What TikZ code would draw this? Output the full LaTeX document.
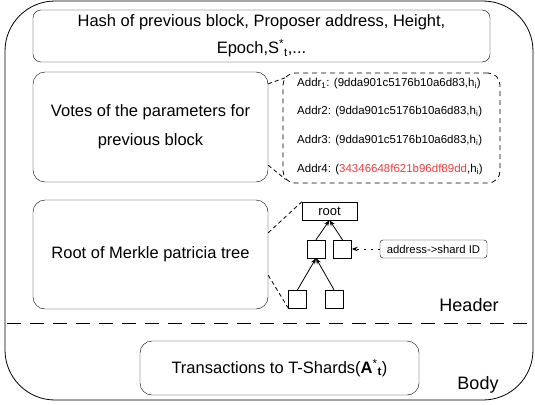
\documentclass[tikz,border=0pt]{standalone}
\usepackage{fontspec}
\setmainfont{Liberation Sans}
\usetikzlibrary{arrows.meta, positioning}
\definecolor{hashred}{RGB}{240,60,60}

\begin{document}
\begin{tikzpicture}[x=1pt, y=-1pt,
    field/.style={draw, rounded corners=12pt, align=center, inner sep=2pt, font=\fontsize{16.5}{27}\selectfont},
    leafbox/.style={draw, minimum size=18pt, inner sep=0pt},
    addrline/.style={anchor=west, inner sep=0pt, font=\fontsize{11.5}{13}\selectfont},
    tag/.style={inner sep=0pt, font=\fontsize{18}{20}\selectfont}]
    \useasboundingbox (0,0) rectangle (535,404);
    % Block frame
    \draw[thick, rounded corners=50pt] (5,1) rectangle (533,400);
    \draw[thick, dash pattern=on 14pt off 9pt] (7,323) -- (533,323);

    % Header fields
    \node[field, minimum width=457pt, minimum height=52pt, rounded corners=8pt] (hash) at (261.5,36)
        {Hash of previous block, Proposer address, Height,\\Epoch,S\textsuperscript{*}\textsubscript{t},...};
    \node[field, minimum width=235pt, minimum height=110pt, font=\fontsize{16.5}{29}\selectfont] (votes) at (150.5,127)
        {Votes of the parameters for\\previous block};
    \node[field, dashed, dash pattern=on 5pt off 4pt, thick, minimum width=217pt, minimum height=110pt] (addrs) at (391.5,128) {};
    \node[field, minimum width=235pt, minimum height=109pt] (merkle) at (150.5,254.5) {Root of Merkle patricia tree};

    % Votes per address
    \node[addrline] (addr1) at (297,84) {Addr\textsubscript{1}: (9dda901c5176b10a6d83,h\textsubscript{i})};
    \node[addrline] (addr2) at (297,112) {Addr2: (9dda901c5176b10a6d83,h\textsubscript{i})};
    \node[addrline] (addr3) at (297,141) {Addr3: (9dda901c5176b10a6d83,h\textsubscript{i})};
    \node[addrline] (addr4) at (297,170) {Addr4: (\textcolor{hashred}{34346648f621b96df89dd},h\textsubscript{i})};

    % Merkle tree
    \node[draw, minimum width=55pt, minimum height=18pt, inner sep=0pt, font=\fontsize{13}{15}\selectfont] (root) at (329.5,211) {root};
    \node[leafbox] (midl) at (316,249) {};
    \node[leafbox] (midr) at (342.5,249) {};
    \node[leafbox] (leafl) at (297.5,299) {};
    \node[leafbox] (leafr) at (334,299) {};
    \node[draw, rounded corners=3pt, minimum width=107pt, minimum height=18pt, inner sep=0pt,
        font=\fontsize{11.3}{13}\selectfont] (shard) at (433.5,249) {address->shard ID};

    % Edges
    \draw[thick, -{Stealth[length=6pt]}] (midl.north) -- (root.south);
    \draw[thick, -{Stealth[length=6pt]}] (midr.north) -- (root.south);
    \draw[thick, -{Stealth[length=6pt]}] (leafl.north) -- (midl.south);
    \draw[thick, -{Stealth[length=6pt]}] (leafr.north) -- (midl.south);
    \draw[thick, dash pattern=on 2pt off 5pt, -{Stealth[length=6pt]}] (shard.west) -- (midr.east);

    % Zoom lines
    \draw[thick, dash pattern=on 4pt off 3pt] ([yshift=-12pt]votes.north east) -- ([xshift=3pt,yshift=-5pt]addrs.north west);
    \draw[thick, dash pattern=on 4pt off 3pt] ([yshift=17pt]votes.south east) -- ([xshift=3pt,yshift=4pt]addrs.south west);
    \draw[thick, dash pattern=on 4pt off 3pt] ([yshift=-33pt]merkle.north east) -- (root.north west);
    \draw[thick, dash pattern=on 4pt off 3pt] ([yshift=34pt]merkle.south east) -- (leafl.south west);

    % Body
    \node[field, minimum width=279pt, minimum height=54pt] (txs) at (279.5,368)
        {Transactions to T-Shards(\textbf{A}\textsuperscript{*}\textsubscript{\textbf{t}})};
    \node[tag] (header) at (469,305) {Header};
    \node[tag] (body) at (478,385) {Body};
\end{tikzpicture}
\end{document}
